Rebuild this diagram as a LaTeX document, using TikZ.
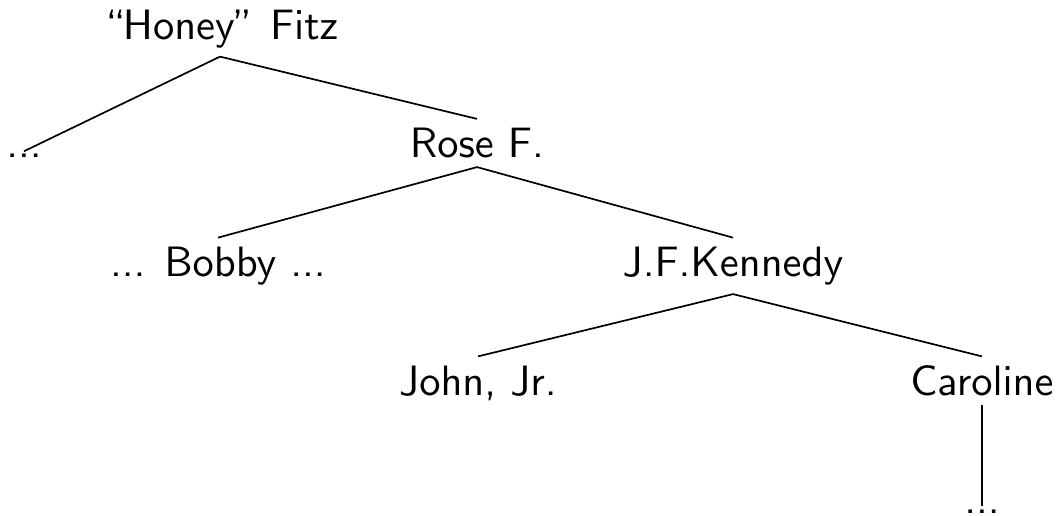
\documentclass[tikz,border=0pt]{standalone}
\usepackage{tikz}

\newcommand{\treefont}{\fontencoding{OT1}\fontfamily{cmss}\selectfont}
\tikzset{
  person/.style={anchor=base, inner sep=2pt, font=\treefont},
  more/.style={person, inner sep=0.5pt}
}

\begin{document}
\begin{tikzpicture}[x=0.2353pt,y=-0.2353pt]
            \useasboundingbox (0,0) rectangle (1058,515);
            %\draw[very thin,color=gray] (0,0) grid[step=100] (1058,515);
            \node[person] (honey) at (220,39) {``Honey'' Fitz};
            \node[more] (ldots) at (24,157.75) {...};
            \node[person] (rose) at (477,157.75) {Rose F.};
            \node[person] (bobby) at (218,276.5) {... Bobby ...};
            \node[person] (jfk) at (733,276.5) {J.F.Kennedy};
            \node[person] (john) at (478,395.25) {John, Jr.};
            \node[person] (caroline) at (982,395.25) {Caroline};
            \node[more] (cdots) at (982,513) {...};
            \draw (honey.south) -- (ldots.north);
            \draw (honey.south) -- (rose.north);
            \draw (rose.south) -- (bobby.north);
            \draw (rose.south) -- (jfk.north);
            \draw (jfk.south) -- (john.north);
            \draw (jfk.south) -- (caroline.north);
            \draw (caroline.south) -- (cdots.north);
        \end{tikzpicture}
\end{document}
